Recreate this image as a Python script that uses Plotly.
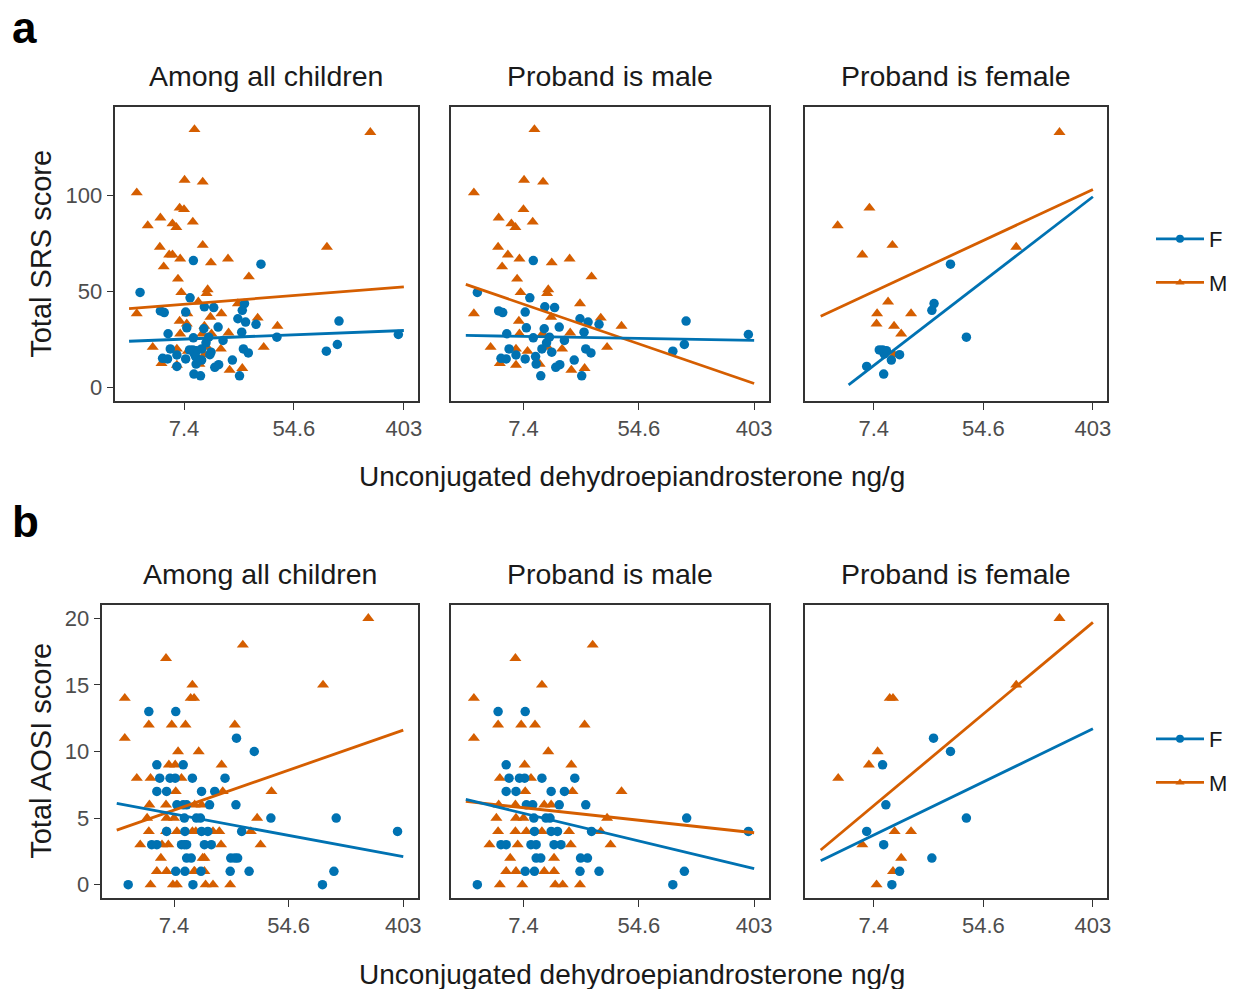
import plotly.graph_objects as go

# ---------------- data (x = ln of unconjugated DHEA, ng/g) ----------------
# SRS, proband is male
srs_pm_F_x = [2.17, 1.20, 2.11, 1.57, 1.64, 2.03, 2.37, 2.54, 2.98, 3.12, 3.31, 4.82, 5.90, 2.05, 2.36,
              2.62, 3.05, 1.71, 2.17, 2.45, 2.71, 1.75, 1.61, 1.70, 1.87, 2.03, 2.22, 2.32, 2.49, 3.08,
              3.17, 2.88, 2.56, 2.63, 2.30, 3.01, 4.59, 4.79, 2.21, 2.40]
srs_pm_F_y = [66.1, 49.5, 46.7, 39.9, 39.0, 39.3, 42.0, 41.6, 35.8, 34.1, 32.9, 34.6, 27.6, 31.1, 30.6,
              31.5, 28.8, 28.0, 25.9, 26.2, 24.5, 20.1, 15.2, 14.9, 17.0, 14.9, 12.2, 20.1, 18.4, 20.1,
              18.0, 14.3, 10.5, 11.9, 6.1, 6.1, 18.9, 22.4, 16.1, 23.3]
srs_pm_M_x = [2.19, 2.01, 2.34, 1.14, 2.00, 1.57, 1.79, 1.86, 2.16, 1.56, 1.73, 1.93, 1.63, 2.49, 2.80,
              1.89, 3.18, 1.95, 2.43, 2.41, 1.14, 2.98, 1.92, 2.48, 3.34, 3.70, 2.81, 1.43, 1.87, 2.07,
              2.42, 2.67, 3.45, 1.59, 1.87, 2.28, 2.83, 3.06, 1.93, 2.33]
srs_pm_M_y = [134.3, 108.0, 107.0, 101.4, 92.7, 88.3, 85.3, 83.4, 86.2, 73.1, 69.1, 67.0, 62.9, 65.0, 67.0,
              56.5, 57.7, 49.5, 51.0, 49.0, 38.5, 43.7, 34.6, 36.7, 36.2, 32.0, 28.5, 21.0, 20.1, 18.9,
              21.0, 20.1, 21.0, 12.6, 11.7, 12.2, 9.1, 10.0, 28.0, 28.0]
# SRS, proband is female
srs_pf_F_x = [3.40, 3.10, 3.06, 3.69, 2.16, 2.23, 2.19, 2.47, 2.32, 1.87, 2.18, 2.10]
srs_pf_F_y = [64.2, 43.7, 40.2, 26.2, 19.6, 19.2, 17.5, 17.1, 14.3, 11.0, 7.0, 19.6]
srs_pf_M_x = [5.39, 1.92, 1.34, 2.34, 1.79, 4.60, 2.26, 2.06, 2.05, 2.68, 2.37, 2.50, 2.37]
srs_pf_M_y = [132.8, 93.5, 84.3, 74.1, 69.1, 73.1, 44.6, 38.5, 33.2, 38.5, 32.0, 28.0, 17.1]

# AOSI, proband is male
aosi_pm_F_x = [1.56, 2.03, 1.70, 1.75, 1.93, 2.02, 2.32, 2.89, 1.70, 1.87, 2.48, 2.71, 2.05, 2.16, 2.62,
               3.08, 2.18, 2.39, 2.46, 4.83, 2.19, 2.48, 2.59, 3.18, 5.90, 1.61, 1.70, 2.13, 2.22, 2.53,
               2.65, 2.22, 2.30, 2.99, 3.11, 2.03, 2.19, 2.98, 3.31, 4.79, 1.20, 4.59]
aosi_pm_F_y = [13, 13, 9, 8, 8, 8, 8, 8, 7, 7, 7, 7, 6, 6, 6,
               6, 5, 5, 5, 5, 4, 4, 4, 4, 4, 3, 3, 3, 3, 3,
               3, 2, 2, 2, 2, 1, 1, 1, 1, 1, 0, 0]
aosi_pm_M_x = [3.20, 1.86, 2.32, 1.14, 1.14, 1.56, 1.96, 2.20, 3.06, 2.43, 2.02, 2.83, 1.59, 2.13, 2.03,
               2.85, 3.70, 1.57, 1.86, 2.36, 2.48, 1.53, 1.87, 2.00, 3.45, 1.56, 1.86, 2.05, 2.32, 2.79,
               3.34, 1.41, 1.90, 2.82, 3.51, 1.77, 2.53, 1.70, 1.87, 2.36, 2.53, 1.59, 1.98, 2.55, 2.68,
               2.98]
aosi_pm_M_y = [18, 17, 15, 14, 11, 12, 12, 12, 12, 10, 9, 9, 8, 8, 7,
               7, 7, 6, 6, 6, 6, 5, 5, 5, 5, 4, 4, 4, 4, 4,
               4, 3, 3, 3, 3, 2, 2, 1, 1, 1, 1, 0, 0, 0, 0,
               0]
# AOSI, proband is female
aosi_pf_F_x = [3.09, 3.40, 2.16, 2.22, 3.69, 1.87, 2.18, 3.06, 2.47, 2.33]
aosi_pf_F_y = [11, 10, 9, 6, 5, 4, 3, 2, 1, 0]
aosi_pf_M_x = [5.39, 2.29, 2.35, 4.60, 2.07, 1.91, 1.35, 2.38, 2.68, 1.79, 2.50, 2.35, 2.05]
aosi_pf_M_y = [20, 14, 14, 15, 10, 9, 8, 4, 4, 3, 2, 1, 0]

# fitted lines (start, end) per facet: all children, proband male, proband female
srs_fit_F_x = [[1.0, 6.0], [1.0, 6.0], [1.54, 6.0]]
srs_fit_F_y = [[24.1, 29.7], [27.1, 24.5], [1.4, 99.3]]
srs_fit_M_x = [[1.0, 6.0], [1.0, 6.0], [1.03, 6.0]]
srs_fit_M_y = [[41.1, 52.4], [53.7, 2.1], [37.1, 103.1]]
aosi_fit_F_x = [[1.0, 6.0], [1.0, 6.0], [1.03, 6.0]]
aosi_fit_F_y = [[6.1, 2.1], [6.4, 1.2], [1.8, 11.7]]
aosi_fit_M_x = [[1.0, 6.0], [1.0, 6.0], [1.03, 6.0]]
aosi_fit_M_y = [[4.1, 11.6], [6.25, 3.9], [2.6, 19.7]]

facet_titles = ["Among all children", "Proband is male", "Proband is female"]
x_tickvals = [2, 4, 6]
x_ticktext = ["7.4", "54.6", "403"]
srs_ticks = [0, 50, 100]
aosi_ticks = [0, 5, 10, 15, 20]

# ---------------- styling ----------------
W, H = 1233, 989
XS = 1.0065          # small horizontal correction measured against the reference
BLUE = "#0072B2"
ORANGE = "#D55E00"
FONT = "Liberation Sans, Arial, Helvetica, sans-serif"


def fx(p):
    return min(p * XS / W, 1.0)


def fy(p):
    return 1 - p / H


cols = {
    "a": [(116, 420), (454, 773), (810, 1113)],
    "b": [(103, 420), (454, 773), (810, 1113)],
}
rows = {"a": (107, 401), "b": (605, 898)}

fig = go.Figure()
layout = {}
annotations = []

panels = [
    ("a", "srs",
     [(srs_pm_F_x + srs_pf_F_x, srs_pm_F_y + srs_pf_F_y), (srs_pm_F_x, srs_pm_F_y), (srs_pf_F_x, srs_pf_F_y)],
     [(srs_pm_M_x + srs_pf_M_x, srs_pm_M_y + srs_pf_M_y), (srs_pm_M_x, srs_pm_M_y), (srs_pf_M_x, srs_pf_M_y)],
     srs_fit_F_x, srs_fit_F_y, srs_fit_M_x, srs_fit_M_y, [-7, 146], srs_ticks),
    ("b", "aosi",
     [(aosi_pm_F_x + aosi_pf_F_x, aosi_pm_F_y + aosi_pf_F_y), (aosi_pm_F_x, aosi_pm_F_y), (aosi_pf_F_x, aosi_pf_F_y)],
     [(aosi_pm_M_x + aosi_pf_M_x, aosi_pm_M_y + aosi_pf_M_y), (aosi_pm_M_x, aosi_pm_M_y), (aosi_pf_M_x, aosi_pf_M_y)],
     aosi_fit_F_x, aosi_fit_F_y, aosi_fit_M_x, aosi_fit_M_y, [-1, 21], aosi_ticks),
]

axis_common = dict(
    showgrid=False, zeroline=False, showline=True, mirror=True,
    linecolor="#333333", linewidth=1.6, ticks="outside", ticklen=7,
    tickwidth=1.4, tickcolor="#333333",
    tickfont=dict(family=FONT, size=22, color="#4D4D4D"),
)

idx = 0
for r, (row, name, Fdat, Mdat, fFx, fFy, fMx, fMy, yrange, yticks) in enumerate(panels):
    y0, y1 = rows[row]
    for c in range(3):
        idx += 1
        xa = "x" if idx == 1 else f"x{idx}"
        ya = "y" if idx == 1 else f"y{idx}"
        x0, x1 = cols[row][c]
        layout["xaxis" if idx == 1 else f"xaxis{idx}"] = dict(
            axis_common, domain=[fx(x0), fx(x1)], range=[0.75, 6.25],
            tickvals=x_tickvals, ticktext=x_ticktext, anchor=ya)
        ycfg = dict(axis_common, domain=[fy(y1), fy(y0)], range=yrange,
                    tickvals=yticks, anchor=xa)
        if c > 0:
            ycfg.update(ticks="", showticklabels=False)
        layout["yaxis" if idx == 1 else f"yaxis{idx}"] = ycfg
        # points
        fig.add_trace(go.Scatter(x=Mdat[c][0], y=Mdat[c][1], mode="markers", xaxis=xa, yaxis=ya,
                                 marker=dict(symbol="triangle-up", size=10.5, color=ORANGE, line=dict(width=0)),
                                 showlegend=False, hoverinfo="skip"))
        fig.add_trace(go.Scatter(x=Fdat[c][0], y=Fdat[c][1], mode="markers", xaxis=xa, yaxis=ya,
                                 marker=dict(symbol="circle", size=9.5, color=BLUE, line=dict(width=0)),
                                 showlegend=False, hoverinfo="skip"))
        # fitted lines
        fig.add_trace(go.Scatter(x=fMx[c], y=fMy[c], mode="lines", xaxis=xa, yaxis=ya,
                                 line=dict(color=ORANGE, width=2.8), showlegend=False, hoverinfo="skip"))
        fig.add_trace(go.Scatter(x=fFx[c], y=fFy[c], mode="lines", xaxis=xa, yaxis=ya,
                                 line=dict(color=BLUE, width=2.8), showlegend=False, hoverinfo="skip"))
        # facet strip title
        annotations.append(dict(text=facet_titles[c], x=fx((x0 + x1) / 2), y=fy(y0 - 31),
                                xref="paper", yref="paper", showarrow=False,
                                xanchor="center", yanchor="middle",
                                font=dict(family=FONT, size=28.5, color="#1a1a1a")))
    # legend entries for this row
    leg = "legend" if row == "a" else "legend2"
    for lab, col, sym in (("F", BLUE, "circle"), ("M", ORANGE, "triangle-up")):
        fig.add_trace(go.Scatter(x=[None], y=[None], mode="lines+markers", name=lab,
                                 legend=leg, legendgroup=row + lab,
                                 line=dict(color=col, width=2.8),
                                 marker=dict(symbol=sym, size=8, color=col, line=dict(width=0))))

# axis titles and panel labels
annotations += [
    dict(text="Unconjugated dehydroepiandrosterone ng/g", x=fx(636), y=fy(476), xref="paper", yref="paper",
         showarrow=False, xanchor="center", yanchor="middle", font=dict(family=FONT, size=28, color="#1a1a1a")),
    dict(text="Unconjugated dehydroepiandrosterone ng/g", x=fx(636), y=fy(974), xref="paper", yref="paper",
         showarrow=False, xanchor="center", yanchor="middle", font=dict(family=FONT, size=28, color="#1a1a1a")),
    dict(text="Total SRS score", x=fx(41), y=fy(254), xref="paper", yref="paper", textangle=-90,
         showarrow=False, xanchor="center", yanchor="middle", font=dict(family=FONT, size=29, color="#1a1a1a")),
    dict(text="Total AOSI score", x=fx(41), y=fy(751), xref="paper", yref="paper", textangle=-90,
         showarrow=False, xanchor="center", yanchor="middle", font=dict(family=FONT, size=29, color="#1a1a1a")),
    dict(text="<b>a</b>", x=fx(10), y=fy(27), xref="paper", yref="paper",
         showarrow=False, xanchor="left", yanchor="middle", font=dict(family=FONT, size=44, color="black")),
    dict(text="<b>b</b>", x=fx(10), y=fy(521), xref="paper", yref="paper",
         showarrow=False, xanchor="left", yanchor="middle", font=dict(family=FONT, size=44, color="black")),
]

legend_common = dict(xanchor="left", yanchor="top", bgcolor="rgba(0,0,0,0)", borderwidth=0,
                     font=dict(family=FONT, size=22, color="#1a1a1a"), tracegroupgap=12,
                     itemwidth=48, itemsizing="trace")
layout["legend"] = dict(legend_common, x=fx(1158), y=fy(218))
layout["legend2"] = dict(legend_common, x=fx(1158), y=fy(718))

fig.update_layout(
    autosize=True, height=H, margin=dict(l=0, r=0, t=0, b=0),
    paper_bgcolor="white", plot_bgcolor="white",
    annotations=annotations, showlegend=True, **layout,
)

page_js = ("document.body.style.margin='0px';"
           "document.body.style.overflow='hidden';"
           "document.documentElement.style.overflow='hidden';"
           "window.dispatchEvent(new Event('resize'));")
fig.write_html("out.html", post_script=page_js,
               config={"displayModeBar": False, "responsive": True})
